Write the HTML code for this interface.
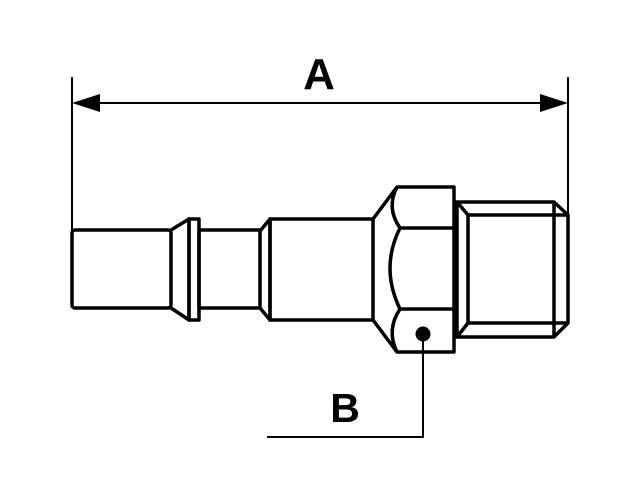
<!DOCTYPE html>
<html><head><meta charset="utf-8"><style>html,body{margin:0;padding:0;background:#fff}svg{display:block}</style></head>
<body>
<svg width="640" height="480" viewBox="0 0 640 480" xmlns="http://www.w3.org/2000/svg">
<rect width="640" height="480" fill="#fff"/>
<g stroke="#000" fill="none" stroke-linejoin="round">
<!-- dimension A -->
<line x1="72" y1="77" x2="72" y2="232" stroke-width="2"/>
<line x1="568" y1="77" x2="568" y2="214" stroke-width="2"/>
<line x1="95" y1="103" x2="545" y2="103" stroke-width="2"/>
<!-- part -->
<g stroke-width="3.5">
<rect x="72" y="230" width="99" height="78" rx="3"/>
<path d="M171 230 L189 219 L189 320 L171 308"/>
<rect x="189" y="219" width="10" height="101"/>
<rect x="199" y="230" width="61" height="78"/>
<path d="M260 231 L270 219 L270 320 L260 308"/>
<rect x="270" y="219" width="103" height="101"/>
<path d="M373 219 L397 187 L454 187 L454 352 L397 352 L373 320"/>
<line x1="400" y1="228" x2="454" y2="228"/>
<line x1="400" y1="309" x2="454" y2="309"/>
<path d="M397 187 Q386 208 400 228"/>
<path d="M400 228 Q380 268 400 309"/>
<path d="M400 309 Q386 330 397 352"/>
<path d="M454 202 L554 202 L568 215 L568 323 L554 337 L454 337"/>
<line x1="457" y1="202" x2="457" y2="337"/>
<line x1="468" y1="215" x2="468" y2="323"/>
<line x1="554" y1="202" x2="554" y2="337"/>
<line x1="457" y1="202" x2="468" y2="215"/>
<line x1="457" y1="337" x2="468" y2="323"/>
<line x1="468" y1="215" x2="568" y2="215"/>
<line x1="468" y1="323" x2="568" y2="323"/>
</g>
<polyline points="423,334 423,437 267,437" stroke-width="2"/>
</g>
<polygon points="72,103 100,94 100,112" fill="#000"/>
<polygon points="568,103 540,94 540,112" fill="#000"/>
<circle cx="423" cy="334" r="7.5" fill="#000"/>
<text x="319" y="89" font-family="Liberation Sans, sans-serif" font-weight="bold" font-size="44" text-anchor="middle">A</text>
<text x="345" y="422" font-family="Liberation Sans, sans-serif" font-weight="bold" font-size="41" text-anchor="middle">B</text>
</svg>
</body></html>
